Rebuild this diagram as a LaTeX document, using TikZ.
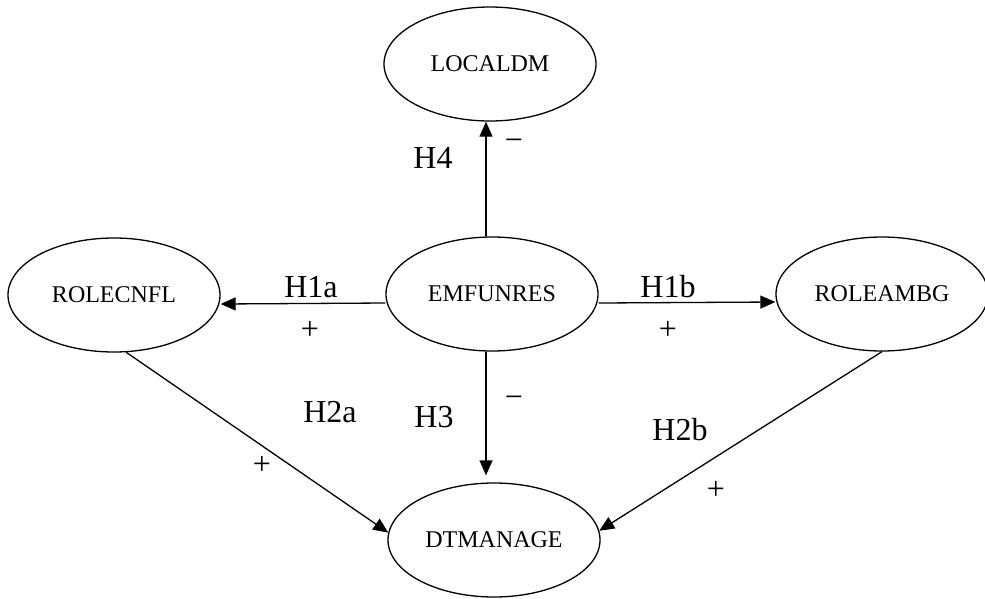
\documentclass[tikz,border=0pt]{standalone}
\usepackage{fontspec}
\setmainfont{Liberation Serif}
\usetikzlibrary{shapes.geometric,arrows.meta}

\tikzset{
  var/.style={draw,shape=ellipse,line width=1.3pt,inner sep=0pt,
    minimum width=212pt,minimum height=114pt,font=\fontsize{24}{28}\selectfont},
  hyp/.style={font=\fontsize{32}{36}\selectfont,inner sep=0pt},
  link/.style={line width=1.3pt,-{Triangle[length=15pt,width=13pt]}}
}

\begin{document}
\begin{tikzpicture}[x=1pt,y=-1pt]
    \useasboundingbox (0,0) rectangle (985,598);
    \draw (490,64) node[var] (loc) {LOCALDM};
    \draw (492,294) node[var] (emf) {EMFUNRES};
    \draw (114,295) node[var] (rolec) {ROLECNFL};
    \draw (882,294) node[var] (rolea) {ROLEAMBG};
    \draw (494,540) node[var] (dtm) {DTMANAGE};
    % paths
    \draw [link] ([xshift=-6pt]emf.north) -- ([xshift=-4pt]loc.south);
    \draw [link] ([yshift=-9pt]emf.west) -- ([yshift=-9pt]rolec.east);
    \draw [link] ([yshift=-9pt]emf.east) -- ([yshift=-8pt]rolea.west);
    \draw [link,shorten >=7pt] ([xshift=-6pt]emf.south) -- ([xshift=-8pt]dtm.north);
    \draw [link] (rolec.-78) -- (dtm.176);
    \draw [link] (rolea.south) -- (dtm.5);
    % labels
    \draw (433,158) node[hyp] (h4) {H4};
    \draw (514,145) node[hyp] (s4) {−};
    \draw (311,287) node[hyp] (h1a) {H1a};
    \draw (310,330) node[hyp] (s1a) {+};
    \draw (668,287) node[hyp] (h1b) {H1b};
    \draw (668,330) node[hyp] (s1b) {+};
    \draw (434,417) node[hyp] (h3) {H3};
    \draw (514,402) node[hyp] (s3) {−};
    \draw (330,412) node[hyp] (h2a) {H2a};
    \draw (262,465) node[hyp] (s2a) {+};
    \draw (680,430) node[hyp] (h2b) {H2b};
    \draw (716,490) node[hyp] (s2b) {+};
\end{tikzpicture}
\end{document}
